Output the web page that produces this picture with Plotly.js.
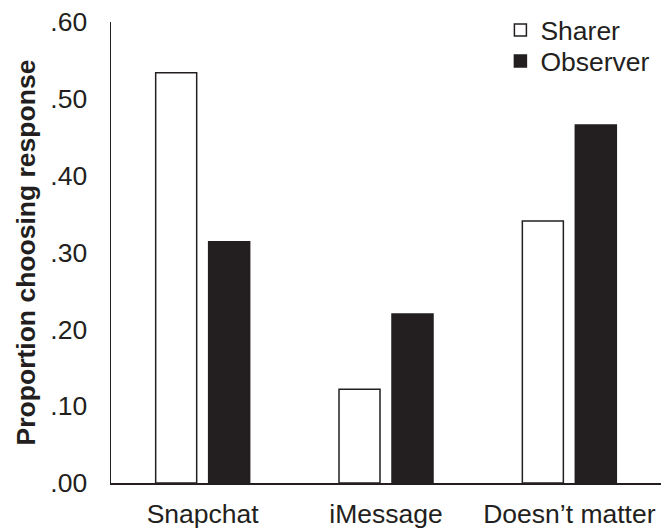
<!DOCTYPE html>
<html>
<head>
<meta charset="utf-8">
<script src="https://cdn.plot.ly/plotly-3.0.1.min.js"></script>
<style>html,body{margin:0;padding:0;background:#fff;}#chart{width:661px;height:529px;}</style>
</head>
<body>
<div id="chart"></div>
<script>
const categories = ["Snapchat", "iMessage", "Doesn\u2019t matter"];
const sharerValues = [0.534, 0.122, 0.341];
const observerValues = [0.314, 0.220, 0.466];
const yTickValues = [0, 0.1, 0.2, 0.3, 0.4, 0.5, 0.6];
const yTickLabels = [".00", ".10", ".20", ".30", ".40", ".50", ".60"];

const ink = "#231f20";
const fontFamily = "Liberation Sans, Arial, Helvetica, sans-serif";
const fs = 26.5;

const data = [
  {
    type: "bar", name: "Sharer", x: categories, y: sharerValues,
    marker: {color: "#ffffff", line: {color: ink, width: 1.5}},
    hoverinfo: "skip", legend: "legend"
  },
  {
    type: "bar", name: "Observer", x: categories, y: observerValues,
    marker: {color: ink, line: {color: ink, width: 1.5}},
    hoverinfo: "skip", legend: "legend2"
  }
];

const legendBase = {
  x: 0.708, xanchor: "left", yanchor: "top",
  bgcolor: "rgba(0,0,0,0)", font: {family: fontFamily, size: fs, color: ink},
  itemwidth: 30
};

const layout = {
  width: 661, height: 529,
  margin: {l: 111, r: 0, t: 22, b: 46},
  paper_bgcolor: "#ffffff", plot_bgcolor: "#ffffff",
  font: {family: fontFamily, size: fs, color: ink},
  barmode: "group", bargap: 0.422, bargroupgap: 0.226,
  showlegend: true,
  legend: Object.assign({}, legendBase, {y: 1.034}),
  legend2: Object.assign({}, legendBase, {y: 0.967}),
  xaxis: {
    type: "category", showline: true, linecolor: ink, linewidth: 1.5,
    showgrid: false, zeroline: false, ticks: "", ticklabelstandoff: 7,
    tickfont: {family: fontFamily, size: fs, color: ink}, fixedrange: true
  },
  yaxis: {
    range: [0, 0.6], showline: true, linecolor: ink, linewidth: 1.5,
    showgrid: false, zeroline: false, ticks: "",
    tickvals: yTickValues, ticktext: yTickLabels, ticklabelstandoff: 17,
    tickfont: {family: fontFamily, size: fs, color: ink},
    title: {text: "<b>Proportion choosing response</b>", font: {family: fontFamily, size: fs, color: ink}, standoff: 7},
    fixedrange: true
  }
};

Plotly.newPlot("chart", data, layout, {staticPlot: true, displayModeBar: false});
</script>
</body>
</html>
